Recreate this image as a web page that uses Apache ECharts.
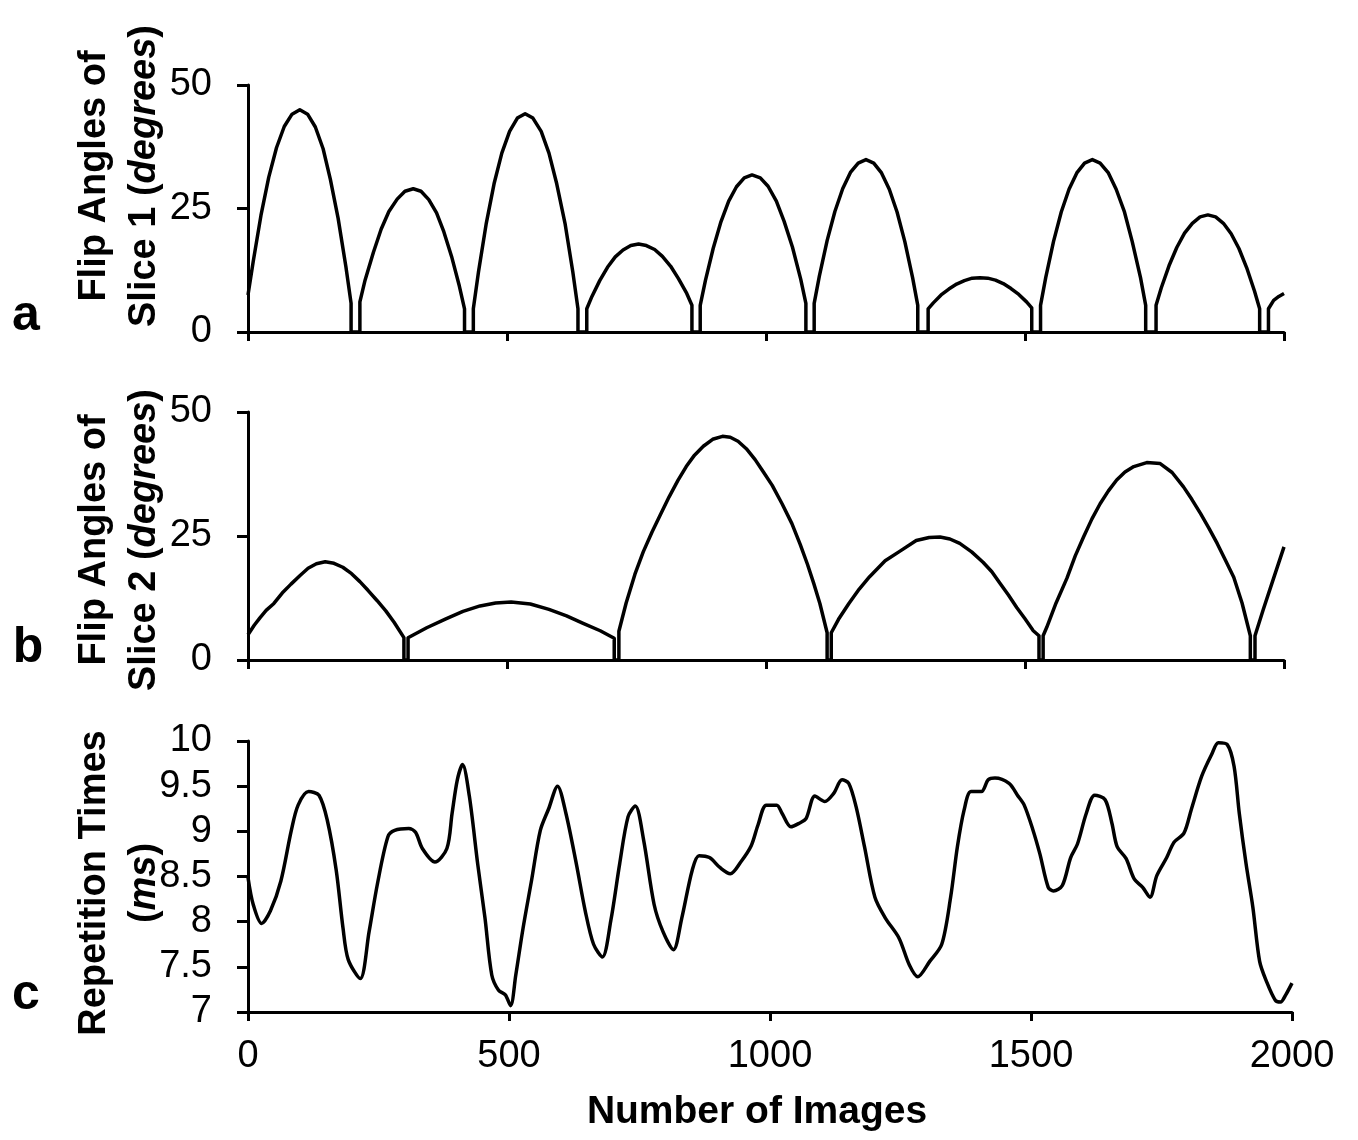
<!DOCTYPE html>
<html>
<head>
<meta charset="utf-8">
<script src="https://cdn.jsdelivr.net/npm/echarts@6/dist/echarts.min.js"></script>
<style>
html,body{margin:0;padding:0;background:#fff;}
#chart{width:1358px;height:1140px;}
</style>
</head>
<body>
<div id="chart"></div>
<script>
// x positions: number of images
const xTickValues = [0, 500, 1000, 1500, 2000];
const flipTickValues = [0, 25, 50];
const trTickValues = [7, 7.5, 8, 8.5, 9, 9.5, 10];

// Panel a: flip angles of slice 1 (degrees)
const slice1Angles = [
 [0,7.5],[10,14.2],[25,23.6],[40,31.3],[55,37.3],[70,41.6],[85,44.1],[100,45],[115,44.1],[130,41.5],[145,37.1],[159,30.9],[174,23.0],[189,13.2],[199,5.8],[199,0],[216,0],
 [216,6.1],[226,10.5],[242,16.1],[257,20.8],[272,24.4],[288,26.9],[303,28.5],[319,29],[334,28.5],[349,26.8],[364,24.1],[378,20.3],[393,15.3],[408,9.3],[418,4.7],[418,0],[435,0],
 [435,4.7],[445,12.2],[460,22.0],[475,30.0],[490,36.2],[505,40.6],[520,43.3],[535,44.2],[550,43.3],[566,40.6],[581,36.2],[596,30.0],[612,22.0],[627,12.2],[637,4.7],[637,0],[654,0],
 [654,4.7],[664,7.2],[679,10.4],[694,13.1],[709,15.2],[724,16.6],[739,17.5],[754,17.8],[769,17.5],[785,16.7],[800,15.3],[816,13.3],[831,10.8],[847,7.8],[857,5.4],[857,0],[873,0],
 [873,5.4],[883,10.4],[898,16.9],[913,22.3],[928,26.5],[943,29.4],[958,31.2],[973,31.8],[989,31.2],[1004,29.5],[1020,26.5],[1035,22.4],[1051,17.2],[1067,10.7],[1077,5.8],[1077,0],[1093,0],
 [1093,5.8],[1103,11.3],[1118,18.5],[1133,24.4],[1148,29.0],[1163,32.3],[1178,34.2],[1193,34.9],[1208,34.2],[1223,32.2],[1238,28.9],[1253,24.3],[1268,18.3],[1283,11.0],[1293,5.4],[1293,0],[1313,0],
 [1313,4.7],[1323,5.9],[1338,7.5],[1353,8.7],[1368,9.7],[1383,10.4],[1398,10.9],[1413,11],[1428,10.9],[1443,10.5],[1458,9.8],[1473,8.8],[1488,7.6],[1503,6.1],[1513,4.9],[1513,0],[1530,0],
 [1530,5.4],[1540,11.0],[1555,18.3],[1570,24.3],[1585,28.9],[1600,32.2],[1615,34.2],[1630,34.9],[1645,34.2],[1661,32.2],[1676,28.9],[1692,24.3],[1707,18.3],[1723,11.0],[1733,5.4],[1733,0],[1753,0],
 [1753,5.4],[1763,8.9],[1778,13.4],[1793,17.1],[1808,20.0],[1823,22.0],[1838,23.3],[1853,23.7],[1868,23.3],[1883,22.0],[1898,19.9],[1913,16.9],[1928,13.0],[1943,8.3],[1953,4.7],[1953,0],[1970,0],
 [1970,4.7],[1980,6.4],[1990,7.2],[2000,7.8]
];

// Panel b: flip angles of slice 2 (degrees)
const slice2Angles = [
 [0,5.1],[12,7],[23,8.5],[35,10],[50,11.4],[66,13.5],[83,15.3],[100,17],[116,18.5],[132,19.4],[149,19.8],[166,19.5],[183,18.7],[200,17.4],[216,15.8],[232,14],[249,12],[266,9.9],[282,7.6],[301,4.5],[301,0],[309,0],
 [309,4.5],[345,6.5],[382,8.3],[415,9.8],[448,10.9],[478,11.5],[508,11.7],[545,11.3],[581,10.2],[615,8.9],[647,7.4],[680,5.9],[707,4.4],[707,0],[716,0],
 [716,5.8],[730,11.5],[747,17.3],[763,21.8],[780,25.8],[797,29.5],[813,32.9],[830,36.2],[846,39],[862,41.3],[879,43.1],[897,44.5],[916,45.1],[931,44.9],[946,44.1],[962,42.6],[979,40.4],[995,37.9],[1012,35.2],[1031,31.5],[1050,27.5],[1066,23.3],[1080,19.3],[1092,15.5],[1104,11.4],[1118,5.5],[1118,0],[1126,0],
 [1126,5.5],[1140,8.2],[1160,11.4],[1180,14.3],[1200,16.8],[1230,20],[1258,21.9],[1290,24.1],[1315,24.7],[1336,24.8],[1355,24.4],[1374,23.5],[1397,21.8],[1419,19.7],[1436,17.8],[1452,15.4],[1468,13.1],[1484,10.6],[1500,8.3],[1516,5.9],[1527,4.9],[1527,0],[1535,0],
 [1535,4.9],[1542,6.6],[1560,11.5],[1581,16.5],[1597,21],[1613,24.8],[1629,28.4],[1645,31.5],[1661,34.1],[1677,36.3],[1693,37.9],[1710,39],[1735,39.8],[1761,39.6],[1784,37.8],[1806,34.9],[1822,32.4],[1839,29.5],[1855,26.6],[1871,23.5],[1887,20.1],[1903,16.7],[1919,11.5],[1935,4.9],[1935,0],[1944,0],
 [1944,4.9],[1960,10.2],[1980,16.5],[2000,22.8]
];

// Panel c: repetition times (ms)
const repetitionTimes = [
 [0,8.49],[10,8.19],[26,7.98],[43,8.12],[63,8.45],[83,9.01],[96,9.29],[116,9.44],[136,9.40],[152,9.12],[169,8.57],[182,7.93],[192,7.58],[215,7.37],[232,7.89],[248,8.42],[268,8.94],[281,9.01],[308,9.03],[321,8.99],[334,8.81],[358,8.66],[381,8.81],[391,9.2],[401,9.57],[411,9.74],[424,9.39],[440,8.64],[454,8.04],[467,7.41],[480,7.24],[493,7.19],[503,7.07],[513,7.41],[527,7.93],[543,8.45],[560,9.01],[576,9.25],[593,9.5],[609,9.2],[629,8.64],[646,8.12],[662,7.75],[679,7.61],[695,8.01],[712,8.64],[728,9.16],[742,9.28],[758,8.9],[778,8.19],[795,7.89],[815,7.69],[831,8.04],[851,8.57],[864,8.73],[884,8.71],[904,8.6],[924,8.53],[944,8.66],[964,8.84],[977,9.07],[993,9.29],[1013,9.29],[1023,9.2],[1040,9.05],[1056,9.09],[1069,9.14],[1086,9.39],[1105,9.33],[1122,9.42],[1138,9.57],[1151,9.53],[1165,9.27],[1181,8.83],[1201,8.27],[1221,8.04],[1247,7.82],[1267,7.52],[1283,7.39],[1306,7.56],[1329,7.75],[1346,8.27],[1359,8.83],[1372,9.24],[1385,9.44],[1405,9.44],[1418,9.57],[1431,9.59],[1458,9.53],[1474,9.4],[1487,9.29],[1504,9.01],[1517,8.75],[1533,8.38],[1543,8.34],[1560,8.4],[1576,8.71],[1589,8.86],[1606,9.2],[1622,9.4],[1642,9.35],[1655,9.09],[1665,8.83],[1682,8.7],[1698,8.47],[1714,8.38],[1728,8.27],[1741,8.51],[1760,8.71],[1774,8.88],[1793,8.98],[1807,9.24],[1827,9.61],[1846,9.85],[1859,9.98],[1876,9.96],[1889,9.72],[1899,9.2],[1912,8.64],[1925,8.16],[1938,7.56],[1951,7.34],[1968,7.13],[1978,7.11],[1988,7.19],[2000,7.32]
];

const panelLetters = ['a', 'b', 'c'];
const yNames = [
  ['Flip Angles of', 'Slice 1 (', 'degrees', ')'],
  ['Flip Angles of', 'Slice 2 (', 'degrees', ')'],
  ['Repetition Times', '(', 'ms', ')']
];
const xName = 'Number of Images';

const FONT = '"Liberation Sans", Arial, sans-serif';
const chart = echarts.init(document.getElementById('chart'), null, {renderer: 'canvas'});

const axisLine = {show: true, lineStyle: {color: '#000', width: 3}};
const tickStyle = {color: '#000', width: 3};
const labelStyle = {color: '#000', fontFamily: FONT, fontSize: 38};

function xAxis(i, showLabel) {
  return {
    type: 'value', gridIndex: i, min: xTickValues[0], max: xTickValues[xTickValues.length - 1], interval: 500,
    axisLine: axisLine,
    axisTick: {show: true, length: 9, lineStyle: tickStyle},
    splitLine: {show: false},
    axisLabel: Object.assign({show: showLabel, margin: 26, formatter: function (v) { return String(v); }}, labelStyle)
  };
}
function yAxis(i, min, max, interval) {
  return {
    type: 'value', gridIndex: i, min: min, max: max, interval: interval,
    axisLine: axisLine,
    axisTick: {show: true, length: 11, lineStyle: tickStyle},
    splitLine: {show: false},
    axisLabel: Object.assign({margin: 36, formatter: function (v) { return String(v); }}, labelStyle)
  };
}
function lineSeries(i, data, smooth) {
  return {
    type: 'line', xAxisIndex: i, yAxisIndex: i, data: data,
    symbol: 'none', smooth: smooth, lineStyle: {color: '#000', width: 3.5, join: 'round'},
    animation: false
  };
}
const rich = {
  b: {fontFamily: FONT, fontWeight: 'bold', fontSize: 38, lineHeight: 50, fill: '#000', color: '#000'},
  bi: {fontFamily: FONT, fontWeight: 'bold', fontStyle: 'italic', fontSize: 38, lineHeight: 50, fill: '#000', color: '#000'}
};
function nameText(parts, x, y) {
  return {
    type: 'text', x: x, y: y, rotation: Math.PI / 2,
    style: {
      text: '{b|' + parts[0] + '}\n{b|' + parts[1] + '}{bi|' + parts[2] + '}{b|' + parts[3] + '}',
      rich: rich, align: 'center', verticalAlign: 'middle', fill: '#000'
    }
  };
}
function letterText(t, x, y) {
  return {
    type: 'text', x: x, y: y,
    style: {text: t, font: 'bold 50px ' + FONT, fill: '#000', align: 'center', verticalAlign: 'middle'}
  };
}

chart.setOption({
  animation: false,
  backgroundColor: '#fff',
  grid: [
    {left: 248, right: 74, top: 85, height: 247},
    {left: 248, right: 74, top: 412, height: 248},
    {left: 248, right: 66, top: 741, height: 271}
  ],
  xAxis: [xAxis(0, false), xAxis(1, false), xAxis(2, true)],
  yAxis: [
    yAxis(0, flipTickValues[0], flipTickValues[2], 25),
    yAxis(1, flipTickValues[0], flipTickValues[2], 25),
    yAxis(2, trTickValues[0], trTickValues[trTickValues.length - 1], 0.5)
  ],
  series: [
    lineSeries(0, slice1Angles, false),
    lineSeries(1, slice2Angles, false),
    lineSeries(2, repetitionTimes, 0.3)
  ],
  graphic: [
    nameText(yNames[0], 120, 176),
    nameText(yNames[1], 120, 540),
    nameText(yNames[2], 120, 883),
    letterText(panelLetters[0], 26, 316),
    letterText(panelLetters[1], 28, 648),
    letterText(panelLetters[2], 26, 995),
    {type: 'text', x: 757, y: 1112, style: {text: xName, font: 'bold 39px ' + FONT, fill: '#000', align: 'center', verticalAlign: 'middle'}}
  ]
});
</script>
</body>
</html>
